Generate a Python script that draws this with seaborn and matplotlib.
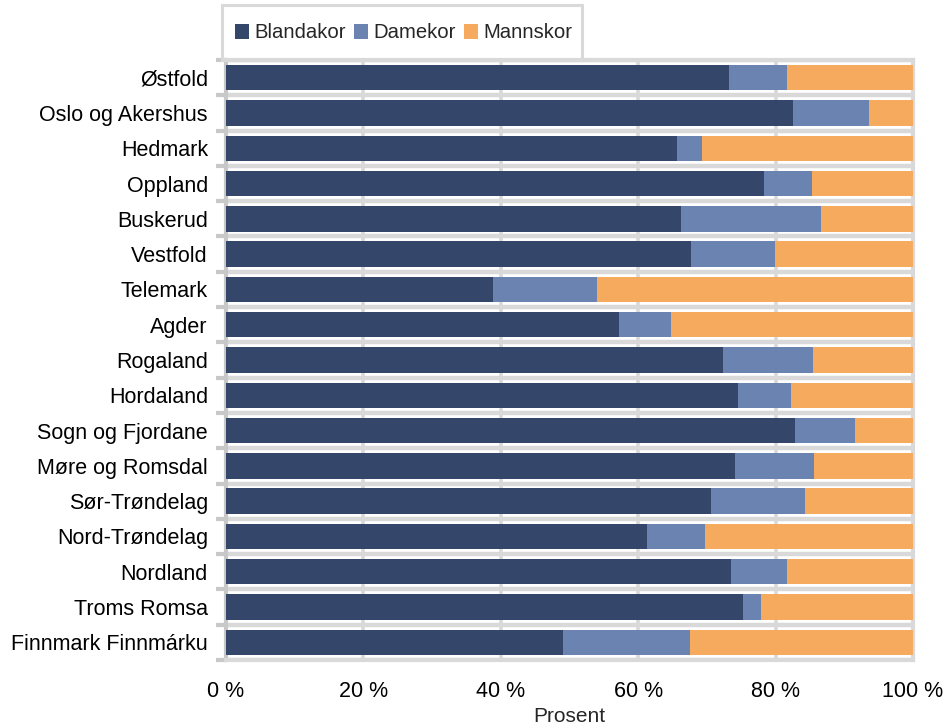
import pandas as pd
import numpy as np
import seaborn as sns
import matplotlib.pyplot as plt
from matplotlib.patches import Rectangle

# regions, top to bottom
fylker = ["Østfold", "Oslo og Akershus", "Hedmark", "Oppland", "Buskerud",
          "Vestfold", "Telemark", "Agder", "Rogaland", "Hordaland",
          "Sogn og Fjordane", "Møre og Romsdal", "Sør-Trøndelag",
          "Nord-Trøndelag", "Nordland", "Troms Romsa", "Finnmark Finnmárku"]

# share of choirs (percent)
blandakor = [73.2, 82.5, 65.6, 78.3, 66.2, 67.7, 38.9, 57.2, 72.3, 74.5,
             82.8, 74.1, 70.6, 61.3, 73.5, 75.3, 49.1]
damekor = [8.5, 11.1, 3.7, 7.0, 20.4, 12.2, 15.1, 7.6, 13.1, 7.7,
           8.8, 11.5, 13.7, 8.4, 8.2, 2.6, 18.4]
mannskor = [18.3, 6.4, 30.7, 14.7, 13.4, 20.1, 46.0, 35.2, 14.6, 17.8,
            8.4, 14.4, 15.7, 30.3, 18.3, 22.1, 32.5]

farger = {"Blandakor": "#34466a", "Damekor": "#6a83b1", "Mannskor": "#f6aa5e"}

df = pd.DataFrame({"fylke": fylker, "Blandakor": blandakor,
                   "Damekor": damekor, "Mannskor": mannskor})
df["bd"] = df["Blandakor"] + df["Damekor"]
df["total"] = df["bd"] + df["Mannskor"]

sns.set_theme(style="white")
plt.rcParams["font.family"] = ["Liberation Sans", "DejaVu Sans"]

fig = plt.figure(figsize=(9.46, 7.27), dpi=100)
ax = fig.add_axes([226/946, 1-660/727, (913-226)/946, (660-60)/727])

# stacked bars by layering cumulative sums
for col, navn in [("total", "Mannskor"), ("bd", "Damekor"), ("Blandakor", "Blandakor")]:
    sns.barplot(data=df, x=col, y="fylke", orient="h", color=farger[navn],
                saturation=1, errorbar=None, width=0.72, ax=ax, label=navn,
                linewidth=0, zorder=3)

handles, labels = ax.get_legend_handles_labels()
if ax.get_legend() is not None:
    ax.get_legend().remove()

ax.set_xlim(0, 100)
ax.set_ylim(len(fylker) - 0.5, -0.5)
ax.set_xticks(np.arange(0, 101, 20))
ax.set_xticklabels([f"{v} %" for v in range(0, 101, 20)])
ax.set_yticks(np.arange(-0.5, len(fylker), 1), minor=True)

ax.grid(False)
ax.grid(which="minor", axis="y", color="#d9d9d9", linewidth=3.2, zorder=0)
ax.grid(which="major", axis="x", color="#d9d9d9", linewidth=2.6, zorder=0)
ax.set_axisbelow(True)

ax.tick_params(axis="y", which="major", length=0, pad=13, labelsize=15.5, labelcolor="black")
ax.tick_params(axis="y", which="minor", length=7, width=3, color="#c8c8c8", left=True)
ax.tick_params(axis="x", which="major", length=0, pad=15, labelsize=15.5, labelcolor="black")

for side in ["top", "right", "bottom"]:
    ax.spines[side].set_color("#d9d9d9")
    ax.spines[side].set_linewidth(3)
ax.spines["left"].set_color("#c8c8c8")
ax.spines["left"].set_linewidth(3)

ax.set_ylabel("")
ax.set_xlabel("Prosent", fontsize=15, labelpad=4)

# legend in a box above the plot
order = ["Blandakor", "Damekor", "Mannskor"]
hmap = dict(zip(labels, handles))
fig.legend([hmap[k] for k in order], order, loc="center left",
           bbox_to_anchor=(0.238, 1-33/727), ncol=3, frameon=False,
           fontsize=14.6, handlelength=0.7, handleheight=0.7,
           handletextpad=0.25, columnspacing=0.4, borderpad=0)
fig.patches.append(Rectangle((222/946, 1-60/727), (582-222)/946, 55/727,
                             transform=fig.transFigure, fill=False,
                             edgecolor="#d9d9d9", linewidth=2.2, zorder=5))

fig.savefig("out.png", dpi=100)
